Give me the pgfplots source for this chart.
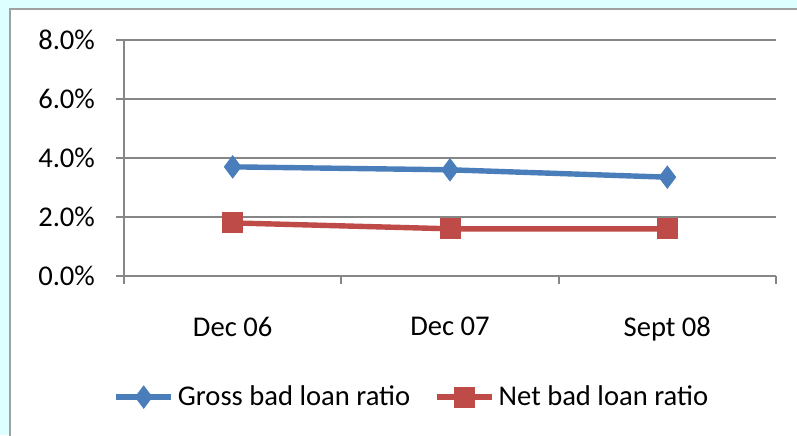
\documentclass[border=0pt]{standalone}
\usepackage{pgfplots}
\pgfplotsset{compat=1.18}
\usepackage{fontspec}
\setmainfont{Carlito}
\definecolor{bgcyan}{RGB}{221,255,255}
\definecolor{frame}{RGB}{160,160,160}
\definecolor{gridgray}{RGB}{134,134,134}
\definecolor{serblue}{RGB}{74,126,187}
\definecolor{serred}{RGB}{190,75,72}
\begin{document}
\begin{tikzpicture}
% 1 px of the reference = 0.5pt
\useasboundingbox (0,0) rectangle (398.5pt,217.5pt);
\fill[bgcyan] (0,0) rectangle (398.5pt,217.5pt);
\filldraw[fill=white,draw=frame,line width=1pt] (5pt,-10pt) rectangle (410pt,213pt);
\begin{axis}[
    at={(62pt,79.5pt)}, anchor=south west,
    scale only axis, width=326pt, height=118pt,
    xmin=0.5, xmax=3.5, ymin=0, ymax=8,
    axis lines=left, axis line style={gridgray,line width=1.3pt,-},
    xtick={1,2,3}, xticklabels={Dec 06,Dec 07,Sept 08},
    minor xtick={0.5,1.5,2.5,3.5},
    major x tick style={draw=none},
    minor x tick style={gridgray,line width=1pt},
    minor tick length=4pt,
    ytick={0,2,4,6,8},
    yticklabels={0.0\%,2.0\%,4.0\%,6.0\%,8.0\%},
    y tick style={gridgray,line width=1pt},
    major tick length=4pt,
    tick align=outside,
    ymajorgrids, grid style={gridgray,line width=1pt},
    tick label style={font=\fontsize{14.3}{17}\selectfont},
    xticklabel style={yshift=-13pt},
    yticklabel style={xshift=-7pt},
    legend columns=2,
    legend style={at={(0.443,-0.513)}, anchor=center, draw=none, fill=none,
        font=\fontsize{14.3}{17}\selectfont, column sep=0pt,
        /tikz/every even column/.append style={column sep=10pt}},
    legend cell align=left,
    legend image code/.code={
        \draw[mark repeat=2,mark phase=2]
            plot coordinates {(0pt,0pt) (13.75pt,0pt) (27.5pt,0pt)};},
]
\addplot[serblue, line width=2.7pt, mark=diamond*, mark size=5.5pt,
    mark options={fill=serblue,draw=serblue,line width=0.5pt}]
    coordinates {(1,3.7) (2,3.6) (3,3.35)};
\addlegendentry{Gross bad loan ratio}
\addplot[serred, line width=2.7pt, mark=square*, mark size=5pt,
    mark options={fill=serred,draw=serred,line width=0.5pt}]
    coordinates {(1,1.8) (2,1.6) (3,1.6)};
\addlegendentry{Net bad loan ratio}
\end{axis}
\end{tikzpicture}
\end{document}
